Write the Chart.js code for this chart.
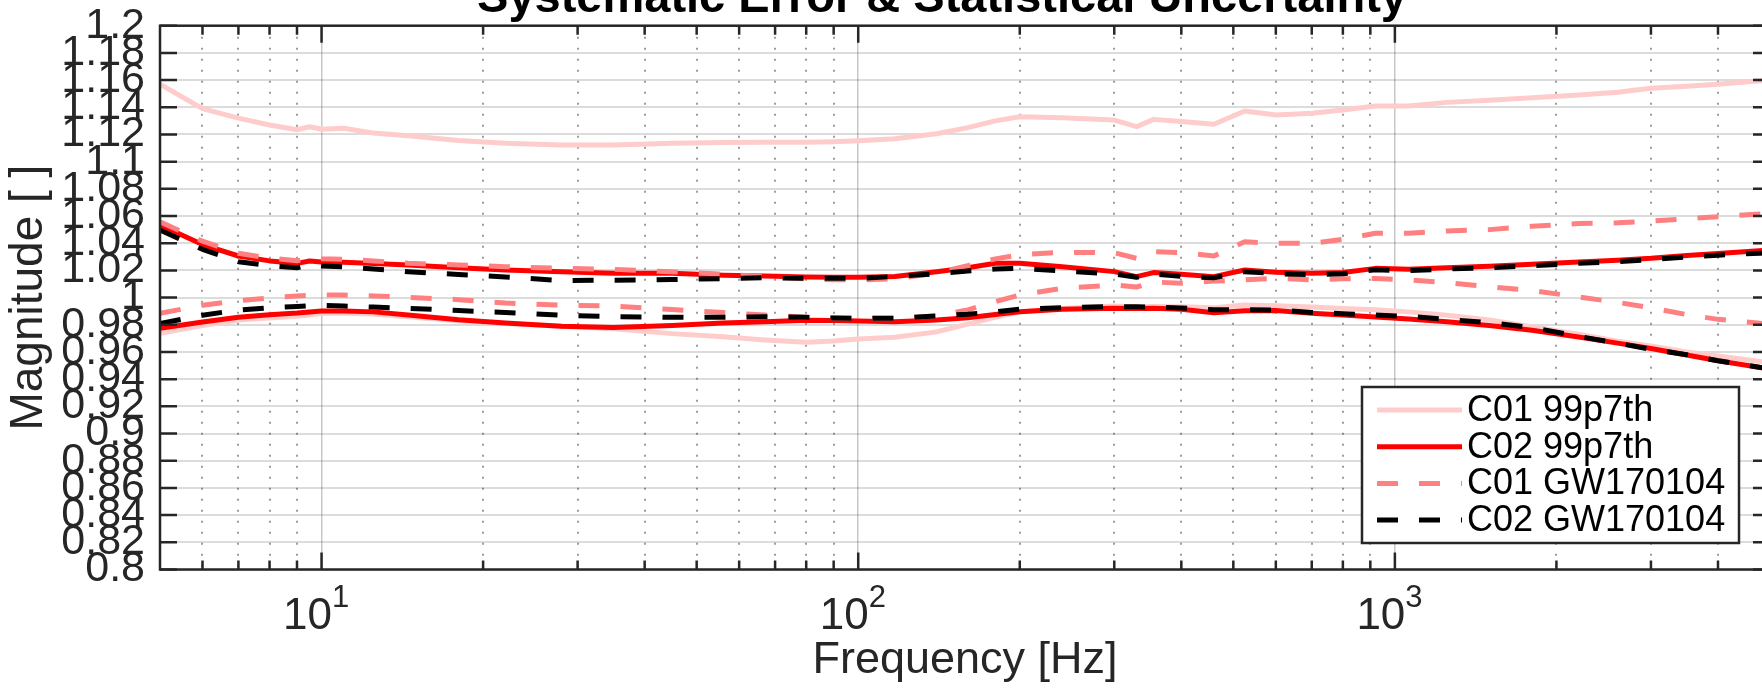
<!DOCTYPE html>
<html>
<head>
<meta charset="utf-8">
<script src="https://cdn.jsdelivr.net/npm/chart.js@4.4.0/dist/chart.umd.min.js"></script>
<style>
  html, body { margin: 0; padding: 0; background: #fff; overflow: hidden; }
  canvas { display: block; }
</style>
</head>
<body>
<canvas id="chart" width="1780" height="688"></canvas>
<script>
// Systematic error & statistical uncertainty bands

const freq = [5, 6, 7, 8, 9, 9.5, 10, 11, 12.5, 14.5,
  18, 22, 28, 35, 45, 56, 67, 80, 90, 100,
  117, 140, 160, 180, 200, 240, 300, 330, 355, 400,
  460, 525, 600, 700, 800, 920, 1060, 1250, 1500, 1800,
  2200, 2600, 3000, 3500, 4000, 5000];

const c01p997Upper = [1.157, 1.139, 1.132, 1.127, 1.1235, 1.1257, 1.1238, 1.1245, 1.121, 1.119,
  1.1155, 1.1135, 1.1122, 1.1122, 1.1135, 1.114, 1.1142, 1.1142, 1.1147, 1.1154,
  1.1168, 1.1205, 1.125, 1.130, 1.133, 1.1323, 1.1306, 1.1257, 1.1311, 1.1295,
  1.1275, 1.1373, 1.1343, 1.1356, 1.138, 1.1409, 1.1409, 1.1436, 1.1452, 1.147,
  1.149, 1.151, 1.154, 1.1555, 1.157, 1.160];
const c01p997Lower = [0.9737, 0.9795, 0.9835, 0.985, 0.9862, 0.9872, 0.9884, 0.9885, 0.988, 0.986,
  0.983, 0.981, 0.979, 0.977, 0.9735, 0.9712, 0.9688, 0.9671, 0.968, 0.9695,
  0.9708, 0.9748, 0.9805, 0.9855, 0.9895, 0.992, 0.9938, 0.993, 0.9935, 0.9933,
  0.9925, 0.9946, 0.994, 0.993, 0.992, 0.991, 0.9895, 0.987, 0.9835, 0.9785,
  0.973, 0.968, 0.9645, 0.960, 0.957, 0.952];

const c02p997Upper = [1.0534, 1.039, 1.0306, 1.027, 1.0252, 1.0269, 1.0262, 1.026, 1.025, 1.024,
  1.022, 1.0203, 1.019, 1.018, 1.0179, 1.0165, 1.0158, 1.0152, 1.015, 1.0149,
  1.0155, 1.019, 1.022, 1.0252, 1.0252, 1.0227, 1.0191, 1.0154, 1.0184, 1.0172,
  1.0154, 1.0203, 1.0186, 1.0179, 1.0184, 1.0215, 1.0208, 1.022, 1.023, 1.0245,
  1.0262, 1.0275, 1.0289, 1.031, 1.0325, 1.035];
const c02p997Lower = [0.9774, 0.982, 0.9855, 0.9874, 0.9886, 0.9894, 0.9901, 0.9902, 0.9895, 0.9872,
  0.9837, 0.9813, 0.979, 0.978, 0.9795, 0.9813, 0.9823, 0.9834, 0.9832, 0.9828,
  0.9823, 0.9835, 0.9852, 0.9875, 0.9896, 0.9914, 0.9921, 0.992, 0.9921, 0.9915,
  0.9889, 0.9904, 0.9905, 0.9884, 0.9872, 0.9858, 0.9843, 0.9822, 0.9795, 0.976,
  0.971, 0.9665, 0.9625, 0.9578, 0.9535, 0.9475];

const c01gwUpper = [1.0558, 1.0415, 1.0326, 1.029, 1.0271, 1.0289, 1.0285, 1.0282, 1.027, 1.0252,
  1.024, 1.0227, 1.0215, 1.0208, 1.019, 1.0172, 1.0155, 1.0138, 1.0132, 1.013,
  1.0138, 1.018, 1.0235, 1.0285, 1.0315, 1.0333, 1.033, 1.0289, 1.0337, 1.0331,
  1.0306, 1.0411, 1.0399, 1.0399, 1.0428, 1.0473, 1.0473, 1.049, 1.050, 1.0525,
  1.0545, 1.055, 1.0563, 1.058, 1.0595, 1.062];
const c01gwLower = [0.9884, 0.9944, 0.9977, 0.9998, 1.0012, 1.0016, 1.0019, 1.0019, 1.0012, 1.0002,
  0.9985, 0.996, 0.9945, 0.9938, 0.9912, 0.989, 0.9872, 0.9856, 0.985, 0.9848,
  0.9848, 0.9865, 0.991, 0.997, 1.002, 1.0068, 1.0093, 1.0078, 1.0115, 1.0105,
  1.0122, 1.013, 1.0142, 1.013, 1.0138, 1.014, 1.013, 1.011, 1.008, 1.0052,
  1.0005, 0.9965, 0.9925, 0.9875, 0.984, 0.9805];

const c02gwUpper = [1.0497, 1.0355, 1.0264, 1.0235, 1.022, 1.024, 1.0232, 1.0227, 1.021, 1.0191,
  1.017, 1.0152, 1.0125, 1.0128, 1.0133, 1.014, 1.0146, 1.0143, 1.0142, 1.0142,
  1.0155, 1.0176, 1.0195, 1.021, 1.0215, 1.0196, 1.0174, 1.0149, 1.0174, 1.0156,
  1.0146, 1.0191, 1.0176, 1.0168, 1.0175, 1.0205, 1.0198, 1.021, 1.022, 1.0235,
  1.0252, 1.0265, 1.028, 1.0298, 1.0312, 1.033];
const c02gwLower = [0.981, 0.987, 0.9909, 0.9925, 0.9935, 0.994, 0.9942, 0.9938, 0.993, 0.9921,
  0.9905, 0.989, 0.987, 0.986, 0.9855, 0.9855, 0.986, 0.9855, 0.985, 0.9848,
  0.9848, 0.9865, 0.9878, 0.9895, 0.9914, 0.9926, 0.9934, 0.9932, 0.9929, 0.9924,
  0.991, 0.9912, 0.9909, 0.9891, 0.9882, 0.9872, 0.9862, 0.984, 0.9815, 0.978,
  0.9715, 0.9665, 0.962, 0.958, 0.9535, 0.9475];

const seriesLabels = ['C01 99p7th', 'C02 99p7th', 'C01 GW170104', 'C02 GW170104'];

const yTicks = [0.8, 0.82, 0.84, 0.86, 0.88, 0.9, 0.92, 0.94, 0.96, 0.98, 1,
  1.02, 1.04, 1.06, 1.08, 1.1, 1.12, 1.14, 1.16, 1.18, 1.2];
const yTickLabels = ['0.8', '0.82', '0.84', '0.86', '0.88', '0.9', '0.92', '0.94', '0.96', '0.98', '1',
  '1.02', '1.04', '1.06', '1.08', '1.1', '1.12', '1.14', '1.16', '1.18', '1.2'];
const xMajor = [10, 100, 1000];
const xMajorBase = '10';
const xMajorExp = ['1', '2', '3'];
const xMinor = [6, 7, 8, 9, 20, 30, 40, 50, 60, 70, 80, 90,
  200, 300, 400, 500, 600, 700, 800, 900, 2000, 3000, 4000];

const FONT = '"Liberation Sans", Arial, Helvetica, sans-serif';
const INK = '#262626';

const uppers = [c01p997Upper, c02p997Upper, c01gwUpper, c02gwUpper];
const lowers = [c01p997Lower, c02p997Lower, c01gwLower, c02gwLower];
const colors = ['#ffcccc', '#ff0000', '#ff8080', '#000000'];
const dashes = [[], [], [21, 21], [21, 21]];

const datasets = [];
seriesLabels.forEach((label, i) => {
  [uppers[i], lowers[i]].forEach((vals, k) => {
    datasets.push({
      label: label,
      data: vals.map((v, j) => ({ x: freq[j], y: v })),
      borderColor: colors[i],
      borderWidth: 5,
      borderDash: dashes[i],
      borderJoinStyle: 'round',
      pointRadius: 0,
      tension: 0,
      fill: false,
      order: 4 - i,
      inLegend: k === 0
    });
  });
});

// no extra room for the overflowing tick labels
function noPad(s) {
  s.paddingTop = 0;
  s.paddingBottom = 0;
  s.paddingLeft = 0;
  s.paddingRight = 0;
}

// box, inward ticks, title, x labels and legend (MATLAB look)
const decorations = {
  id: 'decorations',
  afterDraw(chart) {
    const { ctx, chartArea: a, scales } = chart;
    const x = scales.x, y = scales.y;
    ctx.save();

    ctx.strokeStyle = INK;
    ctx.lineWidth = 2.5;
    ctx.strokeRect(a.left, a.top, a.right - a.left, a.bottom - a.top);

    ctx.beginPath();
    yTicks.forEach(v => {
      const py = y.getPixelForValue(v);
      ctx.moveTo(a.left, py); ctx.lineTo(a.left + 17, py);
      ctx.moveTo(a.right, py); ctx.lineTo(a.right - 17, py);
    });
    xMajor.forEach(v => {
      const px = x.getPixelForValue(v);
      ctx.moveTo(px, a.bottom); ctx.lineTo(px, a.bottom - 17);
      ctx.moveTo(px, a.top); ctx.lineTo(px, a.top + 17);
    });
    xMinor.forEach(v => {
      const px = x.getPixelForValue(v);
      ctx.moveTo(px, a.bottom); ctx.lineTo(px, a.bottom - 9);
      ctx.moveTo(px, a.top); ctx.lineTo(px, a.top + 9);
    });
    ctx.stroke();

    // x tick labels 10^n
    ctx.fillStyle = INK;
    ctx.textBaseline = 'alphabetic';
    ctx.textAlign = 'left';
    xMajor.forEach((v, i) => {
      const px = x.getPixelForValue(v) - 38.5;
      ctx.font = '44px ' + FONT;
      ctx.fillText(xMajorBase, px, 629);
      const w = ctx.measureText(xMajorBase).width;
      ctx.font = '31px ' + FONT;
      ctx.fillText(xMajorExp[i], px + w, 607);
    });

    // title (cut by the top edge)
    ctx.fillStyle = '#000';
    ctx.textAlign = 'center';
    ctx.font = 'bold 47px ' + FONT;
    ctx.fillText('Systematic Error & Statistical Uncertainty', 942, 12);

    // legend
    const lx = 1362, ly = 387, lw = 377, lh = 156;
    ctx.fillStyle = '#fff';
    ctx.fillRect(lx, ly, lw, lh);
    ctx.strokeStyle = INK;
    ctx.lineWidth = 2.5;
    ctx.setLineDash([]);
    ctx.strokeRect(lx, ly, lw, lh);
    const items = chart.data.datasets.filter(d => d.inLegend);
    ctx.font = '36px ' + FONT;
    ctx.textAlign = 'left';
    ctx.textBaseline = 'middle';
    items.forEach((d, i) => {
      const ry = 410 + i * 36.7;
      ctx.beginPath();
      ctx.strokeStyle = d.borderColor;
      ctx.lineWidth = d.borderWidth;
      ctx.setLineDash(d.borderDash);
      ctx.moveTo(1377, ry); ctx.lineTo(1462, ry);
      ctx.stroke();
      ctx.fillStyle = '#000';
      ctx.fillText(d.label, 1467, ry + 1);
    });
    ctx.restore();
  }
};

new Chart(document.getElementById('chart'), {
  type: 'line',
  data: { datasets: datasets },
  options: {
    responsive: false,
    animation: false,
    events: [],
    layout: { padding: { top: 25.7, right: 10, left: 0, bottom: 0 } },
    plugins: {
      legend: { display: false },
      title: { display: false },
      tooltip: { enabled: false }
    },
    scales: {
      x: {
        type: 'logarithmic',
        min: 5,
        max: 5000,
        position: 'bottom',
        weight: 1,
        afterBuildTicks: s => { s.ticks = xMajor.map(v => ({ value: v })); },
        afterFit: s => { s.height = 118.5; noPad(s); },
        ticks: { display: false },
        grid: { color: 'rgba(0,0,0,0.22)', lineWidth: 1.5, drawTicks: false },
        border: { display: false },
        title: {
          display: true,
          text: 'Frequency [Hz]',
          color: INK,
          font: { family: FONT, size: 45 },
          padding: 0
        }
      },
      xMinor: {
        type: 'logarithmic',
        axis: 'x',
        min: 5,
        max: 5000,
        position: 'bottom',
        weight: 0,
        afterBuildTicks: s => { s.ticks = xMinor.map(v => ({ value: v })); },
        afterFit: s => { s.height = 0; noPad(s); },
        ticks: { display: false },
        grid: { color: 'rgba(38,38,38,0.45)', lineWidth: 2, drawTicks: false },
        border: { display: false, dash: [2, 9] }
      },
      y: {
        min: 0.8,
        max: 1.2,
        afterBuildTicks: s => { s.ticks = yTicks.map(v => ({ value: v })); },
        afterFit: s => { s.width = 160; noPad(s); },
        ticks: {
          autoSkip: false,
          padding: 15,
          color: INK,
          font: { family: FONT, size: 43 },
          callback: (v, i) => yTickLabels[i]
        },
        grid: { color: 'rgba(38,38,38,0.16)', lineWidth: 2, drawTicks: false },
        border: { display: false },
        title: {
          display: true,
          text: 'Magnitude [ ]',
          color: INK,
          font: { family: FONT, size: 46 },
          padding: { top: 2, bottom: 0 }
        }
      }
    }
  },
  plugins: [decorations]
});
</script>
</body>
</html>
